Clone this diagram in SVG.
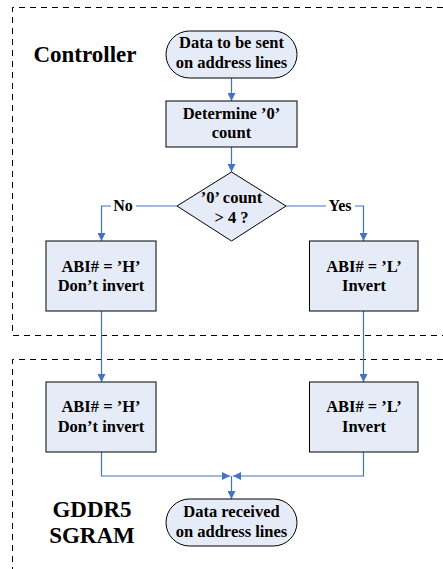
<svg xmlns="http://www.w3.org/2000/svg" width="443" height="569" viewBox="0 0 443 569">
<style>
.region{fill:none;stroke:#000;stroke-width:1;stroke-dasharray:6,5}
.shape{fill:#E6ECF7;stroke:#000;stroke-width:1}
.t{font-family:"Liberation Serif",serif;font-weight:bold;font-size:16.5px;text-anchor:middle;fill:#000}
.big{font-family:"Liberation Serif",serif;font-weight:bold;font-size:23px;text-anchor:middle;fill:#000}
.c{fill:none;stroke:#4472C4;stroke-width:1.2}
.lbl{font-family:"Liberation Serif",serif;font-weight:bold;font-size:16px;text-anchor:middle;fill:#000}
</style>
<defs>
<marker id="ah" viewBox="0 0 10 10" refX="10" refY="5" markerWidth="8" markerHeight="8" markerUnits="userSpaceOnUse" orient="auto">
<path d="M0,0 L10,5 L0,10 z" fill="#4472C4"/>
</marker>
</defs>
<rect width="443" height="569" fill="#fff"/>
<g id="regions">
<path class="region" d="M443,7.5 H12.5 V335.5 H443"/>
<path class="region" d="M443,359.5 H12.5 V569"/>
</g>
<g id="labels">
<text class="big" x="85" y="62">Controller</text>
<text class="big" x="92" y="517">GDDR5</text>
<text class="big" x="92" y="543">SGRAM</text>
</g>
<g id="connectors">
<line class="c" x1="231.5" y1="78" x2="231.5" y2="101" marker-end="url(#ah)"/>
<line class="c" x1="231.5" y1="147" x2="231.5" y2="172" marker-end="url(#ah)"/>
<polyline class="c" points="177,206 101.5,206 101.5,241" marker-end="url(#ah)"/>
<polyline class="c" points="286,206 363.5,206 363.5,241" marker-end="url(#ah)"/>
<line class="c" x1="101.5" y1="311" x2="101.5" y2="382" marker-end="url(#ah)"/>
<line class="c" x1="363.5" y1="311" x2="363.5" y2="382" marker-end="url(#ah)"/>
<polyline class="c" points="101.5,452 101.5,476 230,476" marker-end="url(#ah)"/>
<polyline class="c" points="363.5,452 363.5,476 233,476" marker-end="url(#ah)"/>
<line class="c" x1="231.5" y1="476" x2="231.5" y2="499" marker-end="url(#ah)"/>
<rect x="111" y="198" width="25" height="16" fill="#fff"/>
<text class="lbl" x="123" y="211">No</text>
<rect x="326" y="198" width="29" height="16" fill="#fff"/>
<text class="lbl" x="340" y="211">Yes</text>
</g>
<g id="start">
<rect class="shape" x="166" y="31" width="131" height="47" rx="23.5" ry="23.5"/>
<text class="t" x="231.5" y="48">Data to be sent</text>
<text class="t" x="231.5" y="68">on address lines</text>
</g>
<g id="count">
<rect class="shape" x="166" y="101" width="131" height="46"/>
<text class="t" x="231.5" y="119">Determine ’0’</text>
<text class="t" x="231.5" y="138">count</text>
</g>
<g id="decision">
<polygon class="shape" points="231.5,172 286,206 231.5,241 177,206"/>
<text class="t" x="231.5" y="203">’0’ count</text>
<text class="t" x="231.5" y="223">&gt; 4 ?</text>
</g>
<g id="ctrl-h">
<rect class="shape" x="46" y="241" width="110" height="70"/>
<text class="t" x="101" y="272">ABI# = ’H’</text>
<text class="t" x="101" y="291">Don’t invert</text>
</g>
<g id="ctrl-l">
<rect class="shape" x="309.5" y="241" width="108.5" height="70"/>
<text class="t" x="364" y="272">ABI# = ’L’</text>
<text class="t" x="364" y="291">Invert</text>
</g>
<g id="dram-h">
<rect class="shape" x="46" y="382" width="110" height="70"/>
<text class="t" x="101" y="412">ABI# = ’H’</text>
<text class="t" x="101" y="432">Don’t invert</text>
</g>
<g id="dram-l">
<rect class="shape" x="309.5" y="382" width="108.5" height="70"/>
<text class="t" x="364" y="412">ABI# = ’L’</text>
<text class="t" x="364" y="432">Invert</text>
</g>
<g id="end">
<rect class="shape" x="166" y="499" width="131" height="47" rx="23.5" ry="23.5"/>
<text class="t" x="231.5" y="517">Data received</text>
<text class="t" x="231.5" y="537">on address lines</text>
</g>
</svg>
